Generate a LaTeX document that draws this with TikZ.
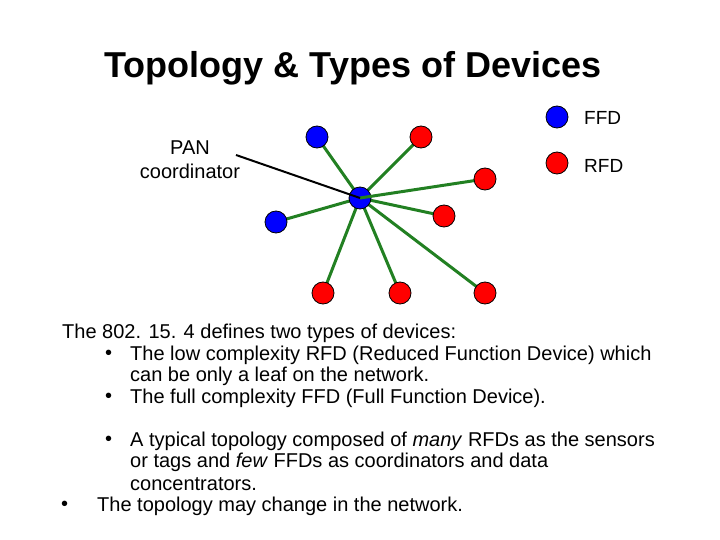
\documentclass[tikz,border=0pt]{standalone}
\usepackage{fontspec}
\setmainfont{Liberation Sans}
\begin{document}
\begin{tikzpicture}[x=1pt,y=-1pt,
  ffd/.style={circle,draw=black,thick,fill=blue,minimum size=22pt,inner sep=0pt},
  rfd/.style={circle,draw=black,thick,fill=red,minimum size=22pt,inner sep=0pt},
  link/.style={draw={rgb,255:red,34;green,128;blue,34},line width=3pt},
  txt/.style={anchor=west,inner sep=0pt,font=\fontsize{20}{22}\selectfont}]
\useasboundingbox (0,0) rectangle (720,540);
\node[font=\bfseries\fontsize{36}{40}\selectfont] (title) at (353,68) {Topology \& Types of Devices};
\coordinate (hc) at (360,198);
\coordinate (c1) at (317,137);
\coordinate (c2) at (421,137);
\coordinate (c3) at (485,179);
\coordinate (c4) at (444,216);
\coordinate (c5) at (276,222);
\coordinate (c6) at (323,293);
\coordinate (c7) at (400,293);
\coordinate (c8) at (485,293);
\foreach \c in {c1,c2,c5,c6,c7,c8,c4}{\draw[link] (hc) -- (\c);}
\node[ffd] (hub) at (hc) {};
\draw[link] (hc) -- (c3);
\node[ffd] (n1) at (c1) {};
\node[rfd] (n2) at (c2) {};
\node[rfd] (n3) at (c3) {};
\node[rfd] (n4) at (c4) {};
\node[ffd] (n5) at (c5) {};
\node[rfd] (n6) at (c6) {};
\node[rfd] (n7) at (c7) {};
\node[rfd] (n8) at (c8) {};
\node[ffd] (lf) at (557,117) {};
\node[rfd] (lr) at (557,163) {};
\node[txt,font=\fontsize{19}{20}\selectfont] (tf) at (584,118) {FFD};
\node[txt,font=\fontsize{19}{20}\selectfont] (tr) at (584,166) {RFD};
\node[align=center,font=\fontsize{20}{24}\selectfont] (pan) at (190,160) {PAN\\coordinator};
\coordinate (pe) at (236,155);
\draw[line width=2pt] (pe) -- (hub.center);
\node[txt] (l1) at (62,333) {The 802. 15. 4 defines two types of devices:};
\node[txt] (b1) at (105,355) {•};
\node[txt] (l2) at (130,355) {The low complexity RFD (Reduced Function Device) which};
\node[txt] (l3) at (130,376) {can be only a leaf on the network.};
\node[txt] (b2) at (105,398) {•};
\node[txt] (l4) at (130,398) {The full complexity FFD (Full Function Device).};
\node[txt] (b3) at (105,441) {•};
\node[txt] (l5) at (130,441) {A typical topology composed of \textit{many} RFDs as the sensors};
\node[txt] (l6) at (130,462) {or tags and \textit{few} FFDs as coordinators and data};
\node[txt] (l7) at (130,484) {concentrators.};
\node[txt] (b4) at (61,506) {•};
\node[txt] (l8) at (97,506) {The topology may change in the network.};
\end{tikzpicture}
\end{document}
